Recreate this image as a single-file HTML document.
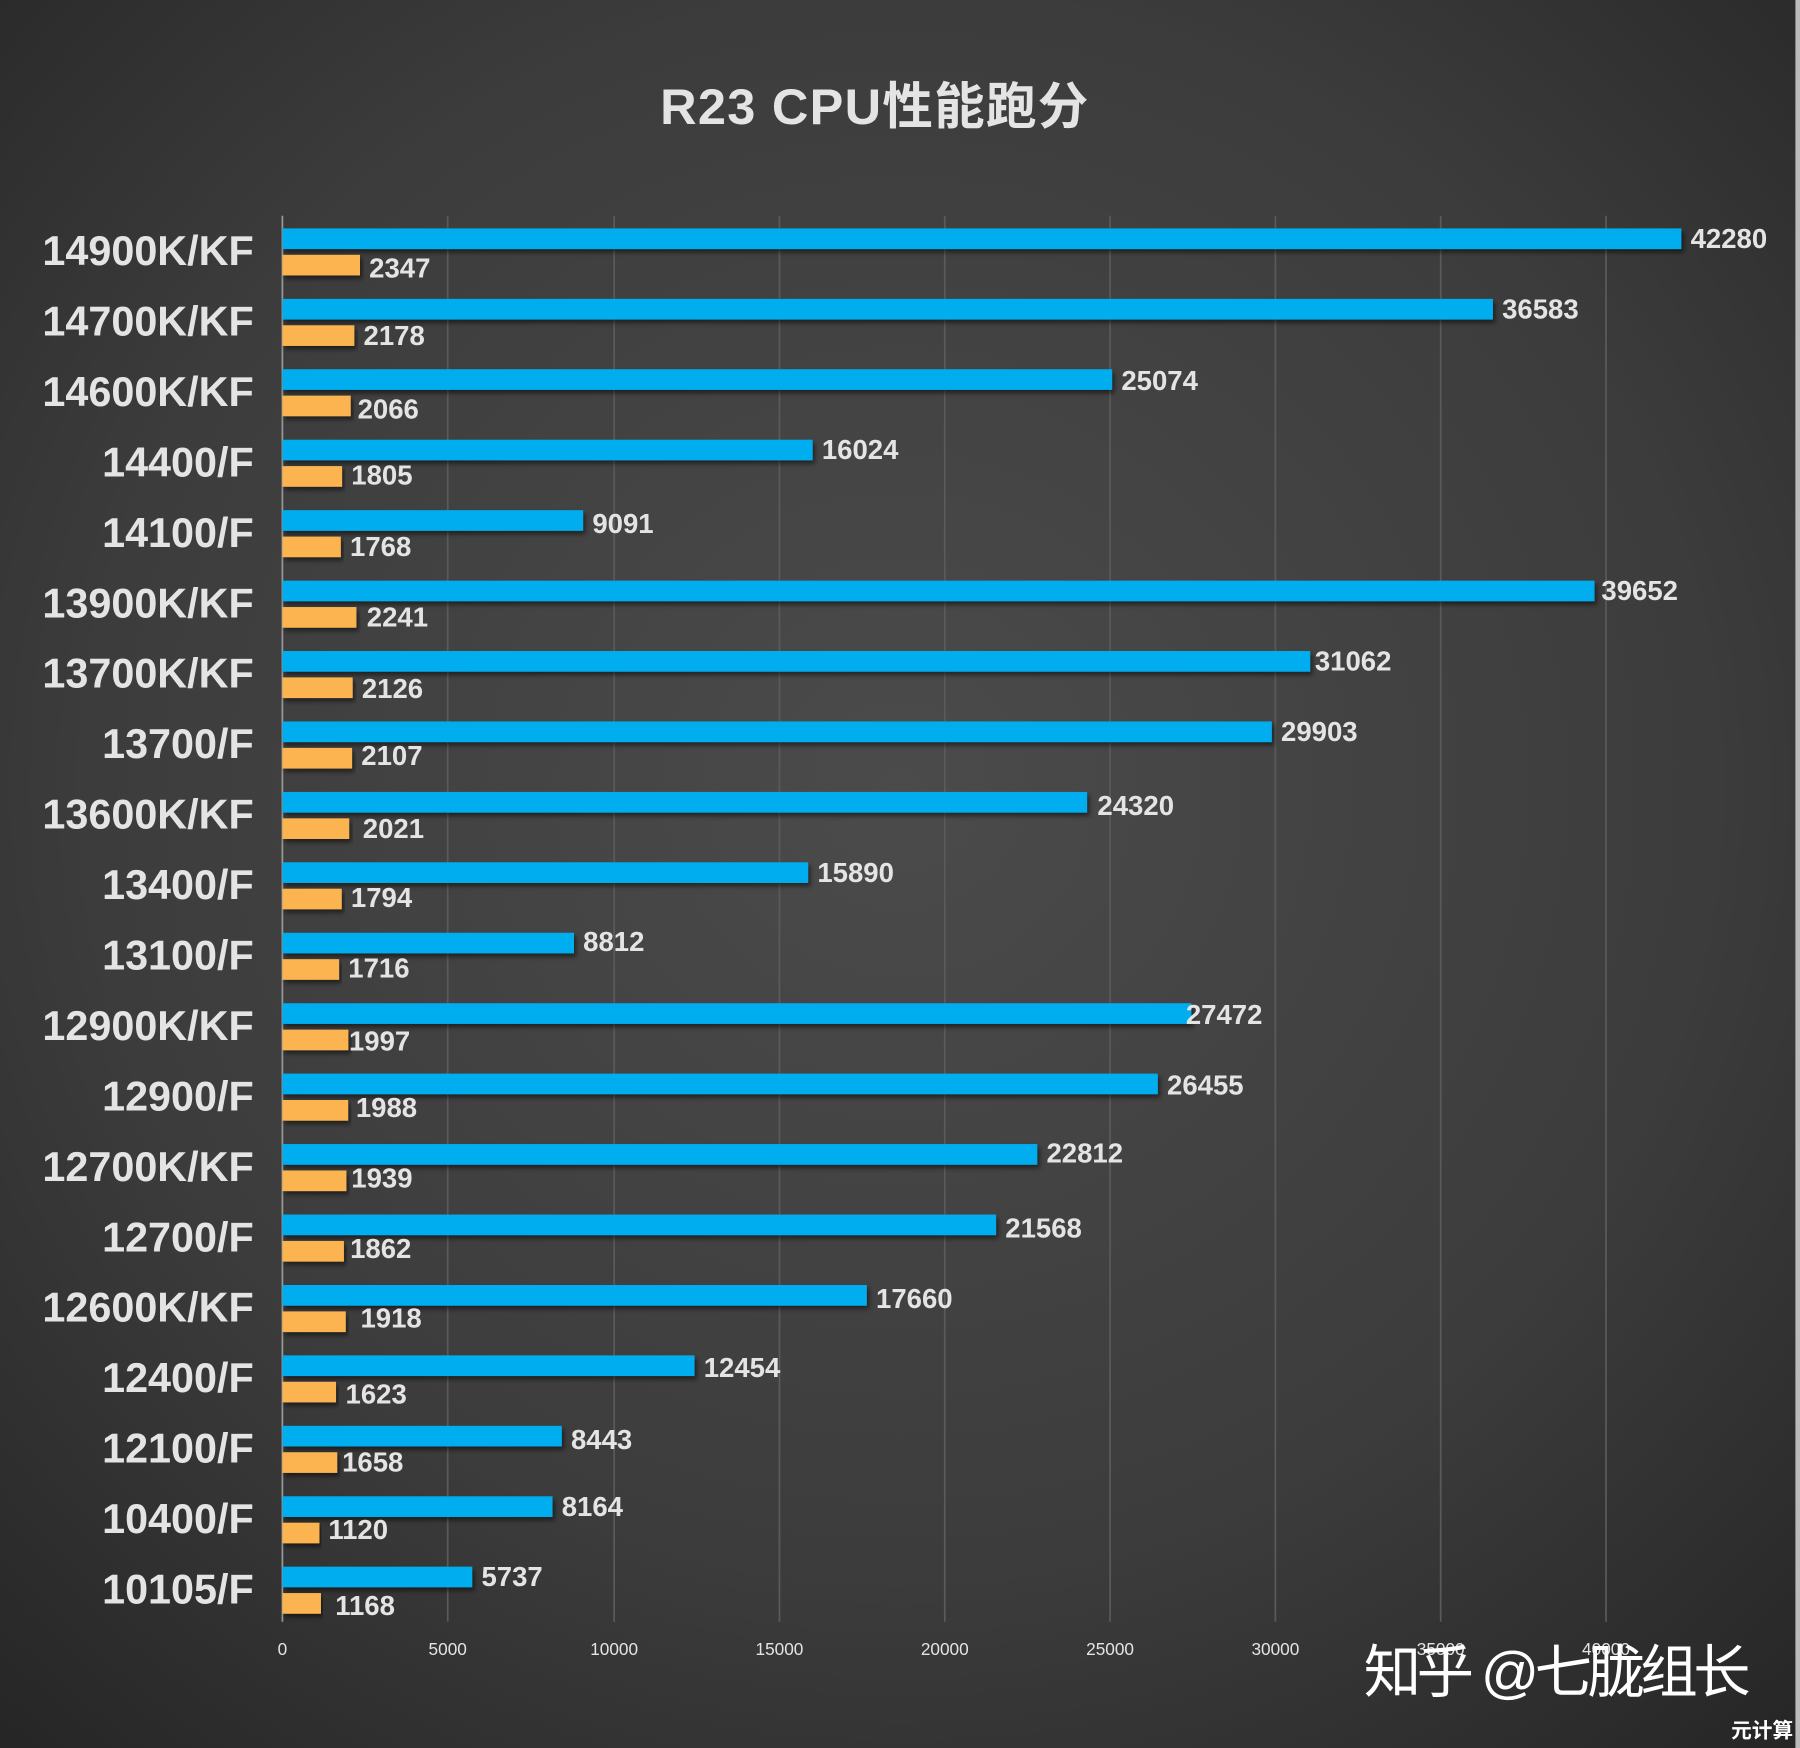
<!DOCTYPE html>
<html><head><meta charset="utf-8"><style>
html,body{margin:0;padding:0;background:#333;}
svg{display:block;}
text{font-family:"Liberation Sans","Noto Sans CJK SC",sans-serif;font-weight:bold;fill:#e4e4e4;}
</style></head><body>
<svg width="1800" height="1748" viewBox="0 0 1568 1523" preserveAspectRatio="none" xmlns="http://www.w3.org/2000/svg">
<defs>
<radialGradient id="bg" cx="0.5" cy="0.45" r="0.75">
<stop offset="0" stop-color="#4b4b4b"/><stop offset="0.6" stop-color="#3c3c3c"/><stop offset="1" stop-color="#252525"/>
</radialGradient>
<filter id="sh" x="-5%" y="-50%" width="110%" height="200%"><feDropShadow dx="2" dy="3" stdDeviation="2" flood-color="#000" flood-opacity="0.5"/></filter>
</defs>
<rect width="1568" height="1523" fill="url(#bg)"/>
<rect x="1564" y="0" width="4" height="1523" fill="#bbb"/>
<text x="575" y="108" font-size="44" fill="#eee" textLength="373">R23 CPU性能跑分</text>
<g stroke="#5a5a5a" stroke-width="1.5">
<line x1="390" y1="188" x2="390" y2="1413"/><line x1="535" y1="188" x2="535" y2="1413"/><line x1="679" y1="188" x2="679" y2="1413"/><line x1="823" y1="188" x2="823" y2="1413"/><line x1="967" y1="188" x2="967" y2="1413"/><line x1="1111" y1="188" x2="1111" y2="1413"/><line x1="1255" y1="188" x2="1255" y2="1413"/><line x1="1399" y1="188" x2="1399" y2="1413"/>
</g>
<line x1="246" y1="188" x2="246" y2="1413" stroke="#999" stroke-width="1.5"/>
<g font-size="15" text-anchor="middle" style="font-weight:normal">
<text x="246" y="1442" style="font-weight:normal">0</text><text x="390" y="1442" style="font-weight:normal">5000</text><text x="535" y="1442" style="font-weight:normal">10000</text><text x="679" y="1442" style="font-weight:normal">15000</text><text x="823" y="1442" style="font-weight:normal">20000</text><text x="967" y="1442" style="font-weight:normal">25000</text><text x="1111" y="1442" style="font-weight:normal">30000</text><text x="1255" y="1442" style="font-weight:normal">35000</text><text x="1399" y="1442" style="font-weight:normal">40000</text>
</g>
<g font-size="24">
<g transform="translate(0,199)"><text x="221" y="32" font-size="36" text-anchor="end">14900K/KF</text><rect x="246" y="0" width="1218.7" height="18" fill="#00aeef" filter="url(#sh)"/><rect x="246" y="23" width="67.6" height="18" fill="#fbb450" filter="url(#sh)"/><text x="1472.7" y="17">42280</text><text x="321.6" y="43">2347</text></g>
<g transform="translate(0,260.4)"><text x="221" y="32" font-size="36" text-anchor="end">14700K/KF</text><rect x="246" y="0" width="1054.5" height="18" fill="#00aeef" filter="url(#sh)"/><rect x="246" y="23" width="62.7" height="18" fill="#fbb450" filter="url(#sh)"/><text x="1308.5" y="17">36583</text><text x="316.7" y="40">2178</text></g>
<g transform="translate(0,321.7)"><text x="221" y="32" font-size="36" text-anchor="end">14600K/KF</text><rect x="246" y="0" width="722.8" height="18" fill="#00aeef" filter="url(#sh)"/><rect x="246" y="23" width="59.5" height="18" fill="#fbb450" filter="url(#sh)"/><text x="976.8" y="18">25074</text><text x="311.5" y="43">2066</text></g>
<g transform="translate(0,383.1)"><text x="221" y="32" font-size="36" text-anchor="end">14400/F</text><rect x="246" y="0" width="461.9" height="18" fill="#00aeef" filter="url(#sh)"/><rect x="246" y="23" width="52" height="18" fill="#fbb450" filter="url(#sh)"/><text x="715.9" y="17">16024</text><text x="306" y="39">1805</text></g>
<g transform="translate(0,444.5)"><text x="221" y="32" font-size="36" text-anchor="end">14100/F</text><rect x="246" y="0" width="262" height="18" fill="#00aeef" filter="url(#sh)"/><rect x="246" y="23" width="50.9" height="18" fill="#fbb450" filter="url(#sh)"/><text x="516" y="20">9091</text><text x="304.9" y="40">1768</text></g>
<g transform="translate(0,505.9)"><text x="221" y="32" font-size="36" text-anchor="end">13900K/KF</text><rect x="246" y="0" width="1143" height="18" fill="#00aeef" filter="url(#sh)"/><rect x="246" y="23" width="64.5" height="18" fill="#fbb450" filter="url(#sh)"/><text x="1395" y="17">39652</text><text x="319.5" y="40">2241</text></g>
<g transform="translate(0,567.2)"><text x="221" y="32" font-size="36" text-anchor="end">13700K/KF</text><rect x="246" y="0" width="895.4" height="18" fill="#00aeef" filter="url(#sh)"/><rect x="246" y="23" width="61.2" height="18" fill="#fbb450" filter="url(#sh)"/><text x="1145.4" y="17">31062</text><text x="315.2" y="41">2126</text></g>
<g transform="translate(0,628.6)"><text x="221" y="32" font-size="36" text-anchor="end">13700/F</text><rect x="246" y="0" width="861.9" height="18" fill="#00aeef" filter="url(#sh)"/><rect x="246" y="23" width="60.7" height="18" fill="#fbb450" filter="url(#sh)"/><text x="1115.9" y="17">29903</text><text x="314.7" y="38">2107</text></g>
<g transform="translate(0,690)"><text x="221" y="32" font-size="36" text-anchor="end">13600K/KF</text><rect x="246" y="0" width="701" height="18" fill="#00aeef" filter="url(#sh)"/><rect x="246" y="23" width="58.2" height="18" fill="#fbb450" filter="url(#sh)"/><text x="956" y="20">24320</text><text x="316" y="40">2021</text></g>
<g transform="translate(0,751.3)"><text x="221" y="32" font-size="36" text-anchor="end">13400/F</text><rect x="246" y="0" width="458" height="18" fill="#00aeef" filter="url(#sh)"/><rect x="246" y="23" width="51.7" height="18" fill="#fbb450" filter="url(#sh)"/><text x="712" y="17">15890</text><text x="305.7" y="39">1794</text></g>
<g transform="translate(0,812.7)"><text x="221" y="32" font-size="36" text-anchor="end">13100/F</text><rect x="246" y="0" width="254" height="18" fill="#00aeef" filter="url(#sh)"/><rect x="246" y="23" width="49.4" height="18" fill="#fbb450" filter="url(#sh)"/><text x="508" y="16">8812</text><text x="303.4" y="39">1716</text></g>
<g transform="translate(0,874.1)"><text x="221" y="32" font-size="36" text-anchor="end">12900K/KF</text><rect x="246" y="0" width="791.9" height="18" fill="#00aeef" filter="url(#sh)"/><rect x="246" y="23" width="57.5" height="18" fill="#fbb450" filter="url(#sh)"/><text x="1033" y="18">27472</text><text x="304" y="41">1997</text></g>
<g transform="translate(0,935.4)"><text x="221" y="32" font-size="36" text-anchor="end">12900/F</text><rect x="246" y="0" width="762.6" height="18" fill="#00aeef" filter="url(#sh)"/><rect x="246" y="23" width="57.3" height="18" fill="#fbb450" filter="url(#sh)"/><text x="1016.6" y="18">26455</text><text x="310" y="38">1988</text></g>
<g transform="translate(0,996.8)"><text x="221" y="32" font-size="36" text-anchor="end">12700K/KF</text><rect x="246" y="0" width="657.6" height="18" fill="#00aeef" filter="url(#sh)"/><rect x="246" y="23" width="55.8" height="18" fill="#fbb450" filter="url(#sh)"/><text x="911.6" y="16">22812</text><text x="306" y="38">1939</text></g>
<g transform="translate(0,1058.2)"><text x="221" y="32" font-size="36" text-anchor="end">12700/F</text><rect x="246" y="0" width="621.7" height="18" fill="#00aeef" filter="url(#sh)"/><rect x="246" y="23" width="53.6" height="18" fill="#fbb450" filter="url(#sh)"/><text x="875.7" y="20">21568</text><text x="305" y="38">1862</text></g>
<g transform="translate(0,1119.6)"><text x="221" y="32" font-size="36" text-anchor="end">12600K/KF</text><rect x="246" y="0" width="509.1" height="18" fill="#00aeef" filter="url(#sh)"/><rect x="246" y="23" width="55.2" height="18" fill="#fbb450" filter="url(#sh)"/><text x="763.1" y="20">17660</text><text x="314" y="37">1918</text></g>
<g transform="translate(0,1180.9)"><text x="221" y="32" font-size="36" text-anchor="end">12400/F</text><rect x="246" y="0" width="359" height="18" fill="#00aeef" filter="url(#sh)"/><rect x="246" y="23" width="46.7" height="18" fill="#fbb450" filter="url(#sh)"/><text x="613" y="19">12454</text><text x="301" y="42">1623</text></g>
<g transform="translate(0,1242.3)"><text x="221" y="32" font-size="36" text-anchor="end">12100/F</text><rect x="246" y="0" width="243.4" height="18" fill="#00aeef" filter="url(#sh)"/><rect x="246" y="23" width="47.8" height="18" fill="#fbb450" filter="url(#sh)"/><text x="497.4" y="20">8443</text><text x="298" y="40">1658</text></g>
<g transform="translate(0,1303.7)"><text x="221" y="32" font-size="36" text-anchor="end">10400/F</text><rect x="246" y="0" width="235.3" height="18" fill="#00aeef" filter="url(#sh)"/><rect x="246" y="23" width="32.3" height="18" fill="#fbb450" filter="url(#sh)"/><text x="489.3" y="17">8164</text><text x="286" y="37">1120</text></g>
<g transform="translate(0,1365)"><text x="221" y="32" font-size="36" text-anchor="end">10105/F</text><rect x="246" y="0" width="165.4" height="18" fill="#00aeef" filter="url(#sh)"/><rect x="246" y="23" width="33.6" height="18" fill="#fbb450" filter="url(#sh)"/><text x="419.4" y="17">5737</text><text x="292" y="42">1168</text></g>
</g>
<text x="1188" y="1474" font-size="50" fill="#fff" style="font-weight:normal;fill:#fff" textLength="337">知乎 @七胧组长</text>
<text x="1508" y="1514" font-size="18" fill="#fff" style="fill:#fff">元计算</text>
</svg>
</body></html>
